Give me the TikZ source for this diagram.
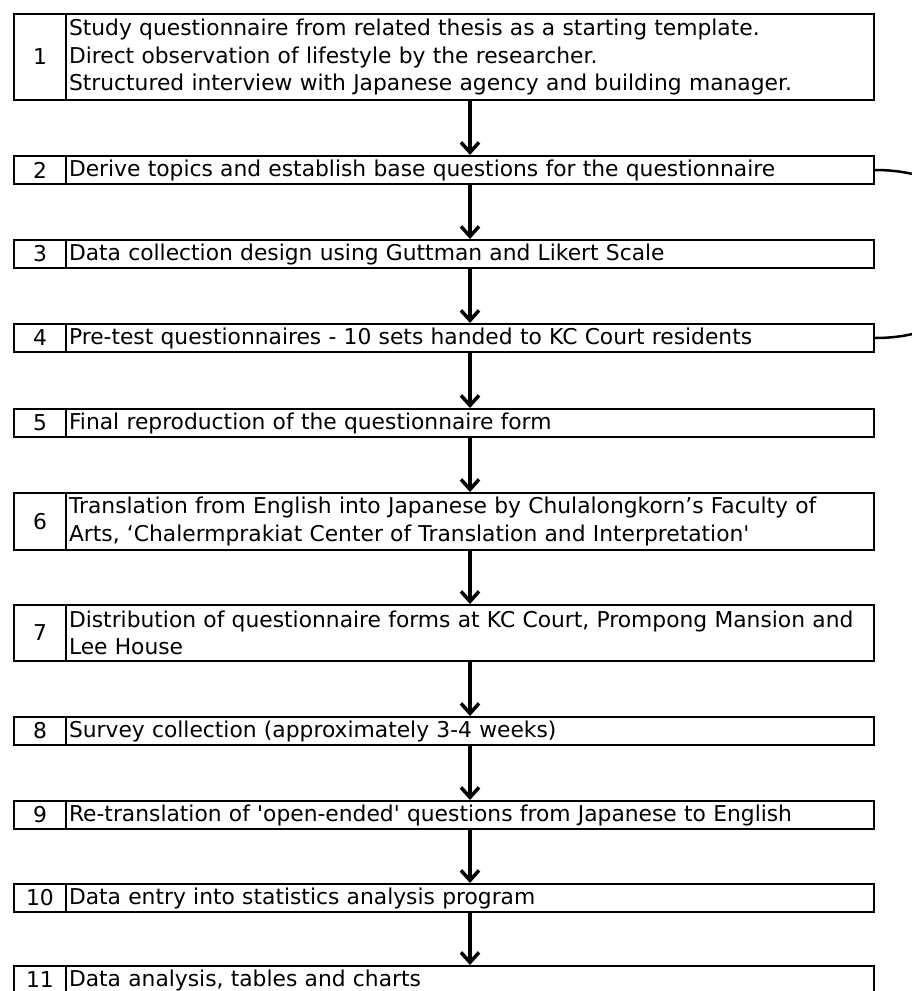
\documentclass[tikz,border=0pt]{standalone}
\usepackage{fontspec}
\setmainfont{DejaVu Sans}
\usetikzlibrary{arrows.meta}
\begin{document}
\begin{tikzpicture}[x=1pt,y=-1pt,
  numbox/.style={draw=black,line width=2pt,rectangle,anchor=north west,minimum width=52pt,inner sep=0pt,align=center,font=\fontsize{21.8}{27.5}\selectfont},
  txtbox/.style={draw=black,line width=2pt,rectangle,anchor=north west,minimum width=808pt,text width=802pt,inner xsep=3pt,inner ysep=0pt,align=left,font=\fontsize{21.8}{27.5}\selectfont},
  arr/.style={line width=3.5pt,-{Straight Barb[length=10pt,width=18pt,line width=3.5pt]}},
  loopline/.style={line width=2.5pt}]
\useasboundingbox (0,0) rectangle (912,991);
\node[numbox,minimum height=86pt] (n1) at (13,13) {1};
\node[txtbox,minimum height=86pt] (t1) at (65,13) {Study questionnaire from related thesis as a starting template.\\Direct observation of lifestyle by the researcher.\\Structured interview with Japanese agency and building manager.};
\node[numbox,minimum height=28pt] (n2) at (13,155) {2};
\node[txtbox,minimum height=28pt] (t2) at (65,155) {Derive topics and establish base questions for the questionnaire};
\node[numbox,minimum height=28pt] (n3) at (13,239) {3};
\node[txtbox,minimum height=28pt] (t3) at (65,239) {Data collection design using Guttman and Likert Scale};
\node[numbox,minimum height=28pt] (n4) at (13,323) {4};
\node[txtbox,minimum height=28pt] (t4) at (65,323) {Pre-test questionnaires - 10 sets handed to KC Court residents};
\node[numbox,minimum height=28pt] (n5) at (13,408) {5};
\node[txtbox,minimum height=28pt] (t5) at (65,408) {Final reproduction of the questionnaire form};
\node[numbox,minimum height=57pt] (n6) at (13,492) {6};
\node[txtbox,minimum height=57pt] (t6) at (65,492) {Translation from English into Japanese by Chulalongkorn’s Faculty of\\Arts, ‘Chalermprakiat Center of Translation and Interpretation\textquotesingle};
\node[numbox,minimum height=56pt] (n7) at (13,604) {7};
\node[txtbox,minimum height=56pt] (t7) at (65,604) {Distribution of questionnaire forms at KC Court, Prompong Mansion and\\Lee House};
\node[numbox,minimum height=28pt] (n8) at (13,716) {8};
\node[txtbox,minimum height=28pt] (t8) at (65,716) {Survey collection (approximately 3-4 weeks)};
\node[numbox,minimum height=28pt] (n9) at (13,800) {9};
\node[txtbox,minimum height=28pt] (t9) at (65,800) {Re-translation of \textquotesingle open-ended\textquotesingle{} questions from Japanese to English};
\node[numbox,minimum height=28pt] (n10) at (13,883) {10};
\node[txtbox,minimum height=28pt] (t10) at (65,883) {Data entry into statistics analysis program};
\node[numbox,minimum height=28pt] (n11) at (13,965) {11};
\node[txtbox,minimum height=28pt] (t11) at (65,965) {Data analysis, tables and charts};
% arrows
\draw[arr] (t1.south) -- (t2.north);
\draw[arr] (t2.south) -- (t3.north);
\draw[arr] (t3.south) -- (t4.north);
\draw[arr] (t4.south) -- (t5.north);
\draw[arr] (t5.south) -- (t6.north);
\draw[arr] (t6.south) -- (t7.north);
\draw[arr] (t7.south) -- (t8.north);
\draw[arr] (t8.south) -- (t9.north);
\draw[arr] (t9.south) -- (t10.north);
\draw[arr] (t10.south) -- (t11.north);
% feedback loop leaving the picture on the right
\draw[loopline] (t4.east) .. controls +(150,0) and +(150,0) .. (t2.east);
\end{tikzpicture}
\end{document}
